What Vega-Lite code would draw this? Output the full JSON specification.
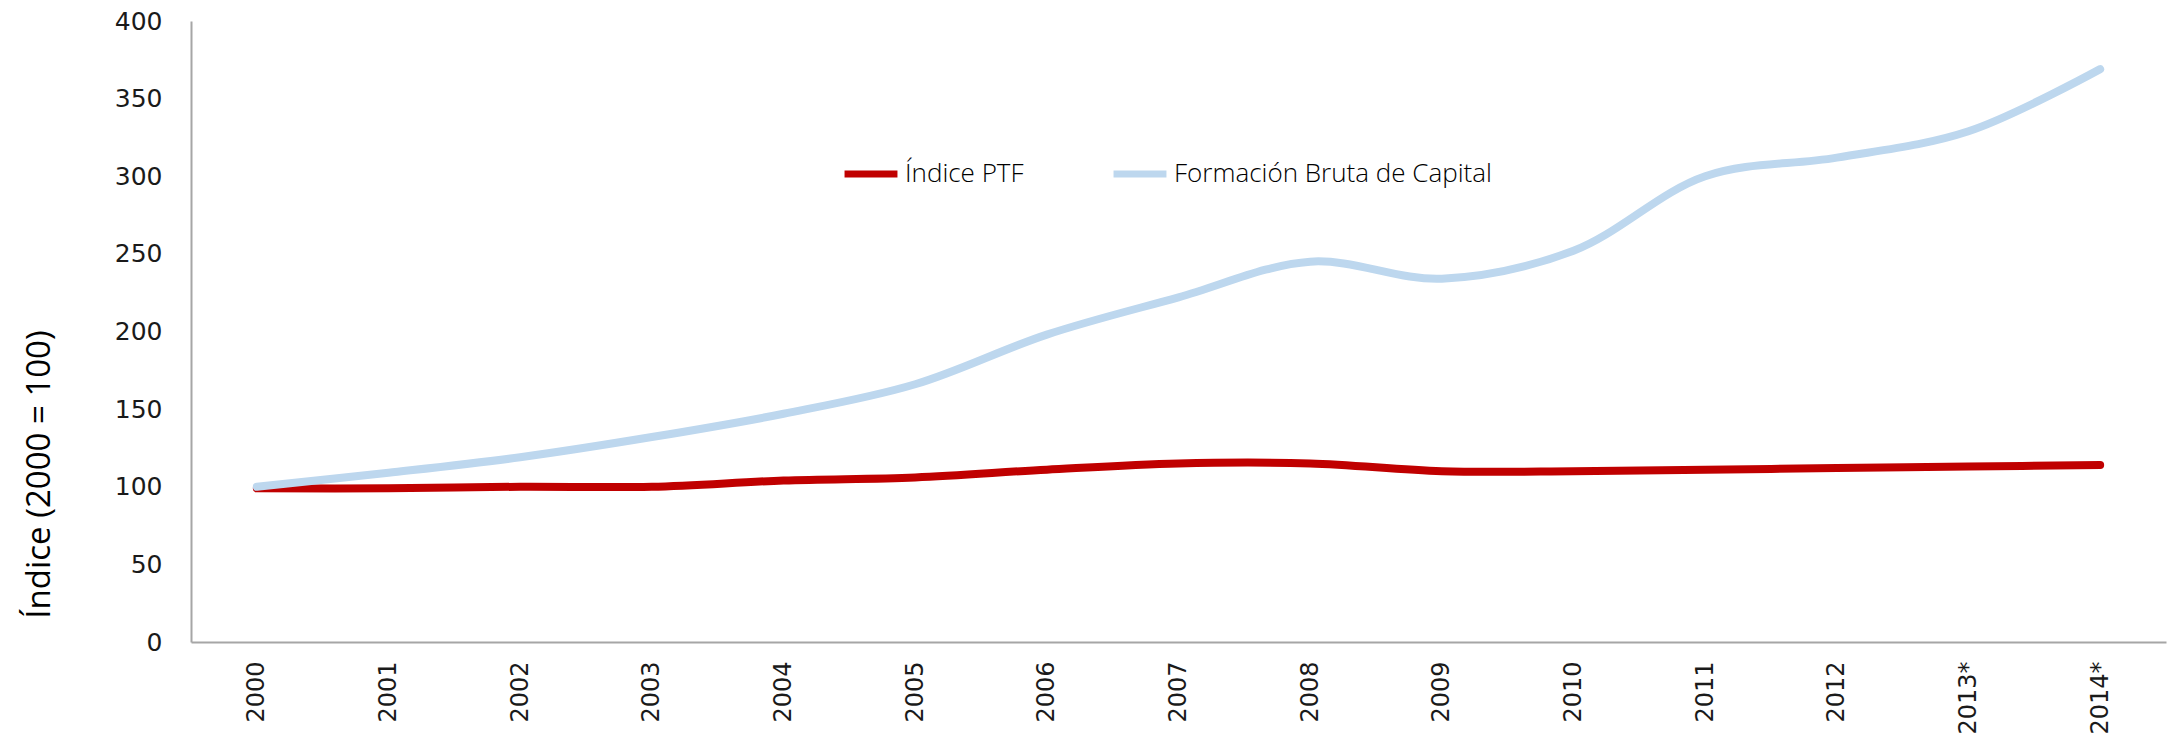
{
  "$schema": "https://vega.github.io/schema/vega-lite/v6.json",
  "width": 1975,
  "height": 621,
  "autosize": "none",
  "padding": {"left": 191, "top": 21, "right": 7, "bottom": 96},
  "background": "white",
  "config": {"view": {"stroke": null}, "font": "DejaVu Sans"},
  "data": {
    "values": [
      {"year": "2000", "serie": "Índice PTF", "valor": 99},
      {"year": "2001", "serie": "Índice PTF", "valor": 99},
      {"year": "2002", "serie": "Índice PTF", "valor": 100},
      {"year": "2003", "serie": "Índice PTF", "valor": 100},
      {"year": "2004", "serie": "Índice PTF", "valor": 104},
      {"year": "2005", "serie": "Índice PTF", "valor": 106},
      {"year": "2006", "serie": "Índice PTF", "valor": 111},
      {"year": "2007", "serie": "Índice PTF", "valor": 115},
      {"year": "2008", "serie": "Índice PTF", "valor": 115},
      {"year": "2009", "serie": "Índice PTF", "valor": 110},
      {"year": "2010", "serie": "Índice PTF", "valor": 110},
      {"year": "2011", "serie": "Índice PTF", "valor": 111},
      {"year": "2012", "serie": "Índice PTF", "valor": 112},
      {"year": "2013*", "serie": "Índice PTF", "valor": 113},
      {"year": "2014*", "serie": "Índice PTF", "valor": 114},
      {"year": "2000", "serie": "Formación Bruta de Capital", "valor": 100},
      {"year": "2001", "serie": "Formación Bruta de Capital", "valor": 109},
      {"year": "2002", "serie": "Formación Bruta de Capital", "valor": 119},
      {"year": "2003", "serie": "Formación Bruta de Capital", "valor": 132},
      {"year": "2004", "serie": "Formación Bruta de Capital", "valor": 147},
      {"year": "2005", "serie": "Formación Bruta de Capital", "valor": 166},
      {"year": "2006", "serie": "Formación Bruta de Capital", "valor": 198},
      {"year": "2007", "serie": "Formación Bruta de Capital", "valor": 222},
      {"year": "2008", "serie": "Formación Bruta de Capital", "valor": 245},
      {"year": "2009", "serie": "Formación Bruta de Capital", "valor": 234},
      {"year": "2010", "serie": "Formación Bruta de Capital", "valor": 252},
      {"year": "2011", "serie": "Formación Bruta de Capital", "valor": 300},
      {"year": "2012", "serie": "Formación Bruta de Capital", "valor": 312},
      {"year": "2013*", "serie": "Formación Bruta de Capital", "valor": 329},
      {"year": "2014*", "serie": "Formación Bruta de Capital", "valor": 369}
    ]
  },
  "mark": {"type": "line", "interpolate": "catmull-rom", "strokeWidth": 8, "strokeCap": "round", "strokeJoin": "round"},
  "encoding": {
    "x": {
      "field": "year", "type": "ordinal", "sort": null,
      "scale": {"type": "point", "padding": 0.5},
      "axis": {
        "title": null, "labelAngle": -90, "labelAlign": "right", "labelBaseline": "middle",
        "labelFontSize": 24, "labelColor": "#1a1a1a", "labelPadding": 19,
        "ticks": false, "domainColor": "#A6A6A6", "domainWidth": 2, "grid": false, "labelFont": "DejaVu Sans"
      }
    },
    "y": {
      "field": "valor", "type": "quantitative",
      "scale": {"domain": [0, 400], "nice": false},
      "axis": {
        "title": "Índice  (2000 = 100)", "titleFontSize": 33, "titleFont": "Open Sans", "titleFontWeight": "normal",
        "titleColor": "#000000", "titleAngle": -90, "titleX": -152, "titleY": 453, "titleAlign": "center", "titleBaseline": "middle",
        "values": [0, 50, 100, 150, 200, 250, 300, 350, 400],
        "labelFontSize": 25, "labelColor": "#1a1a1a", "labelPadding": 29, "labelFont": "DejaVu Sans",
        "ticks": false, "domainColor": "#A6A6A6", "domainWidth": 2, "grid": false
      }
    },
    "color": {
      "field": "serie", "type": "nominal",
      "scale": {"domain": ["Índice PTF", "Formación Bruta de Capital"], "range": ["#C00000", "#BDD7EE"]},
      "legend": {
        "title": null, "orient": "none", "legendX": 650, "legendY": 123, "direction": "horizontal",
        "symbolType": "stroke", "symbolSize": 2800, "symbolStrokeWidth": 7,
        "labelFontSize": 26, "labelFont": "Open Sans", "labelFontWeight": 300, "labelColor": "#000000",
        "columnPadding": 75, "labelOffset": 4, "labelLimit": 600
      }
    }
  }
}
